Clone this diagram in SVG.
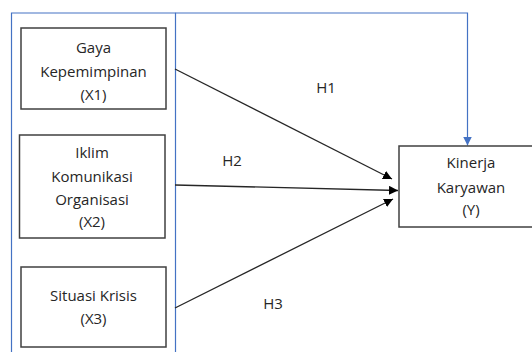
<svg xmlns="http://www.w3.org/2000/svg" width="532" height="352" viewBox="0 0 532 352">
<style>
.box{fill:#fff;stroke:#404040;stroke-width:1.5}
.t{font-family:"Open Sans","Liberation Sans",sans-serif;font-size:15px;fill:#262626;text-anchor:middle}
.lbl{font-family:"Open Sans","Liberation Sans",sans-serif;font-size:15px;fill:#262626;text-anchor:middle}
.blue{fill:none;stroke:#4472C4;stroke-width:1.2}
.arr{fill:none;stroke:#262626;stroke-width:1.3}
</style>
<defs>
<marker id="ah" viewBox="0 0 10 10" refX="10" refY="5" markerWidth="9" markerHeight="9" markerUnits="userSpaceOnUse" orient="auto"><path d="M0,0 L10,5 L0,10 Z" fill="#000"/></marker>
<marker id="ahb" viewBox="0 0 10 10" refX="10" refY="5" markerWidth="9" markerHeight="9" markerUnits="userSpaceOnUse" orient="auto"><path d="M0,0 L10,5 L0,10 Z" fill="#4472C4"/></marker>
</defs>
<rect width="532" height="352" fill="#fff"/>
<g id="connectors">
<path class="blue" d="M11.5,352 V13 H175.5 V352"/>
<path class="blue" d="M175.5,13 H467.5 V145.5" marker-end="url(#ahb)"/>
<line class="arr" x1="175" y1="69" x2="392" y2="179" marker-end="url(#ah)"/>
<line class="arr" x1="175" y1="185" x2="398" y2="190.5" marker-end="url(#ah)"/>
<line class="arr" x1="175" y1="308" x2="393" y2="199" marker-end="url(#ah)"/>
<text class="lbl" x="326" y="93">H1</text>
<text class="lbl" x="232" y="166">H2</text>
<text class="lbl" x="273" y="309">H3</text>
</g>
<g id="x1">
<rect class="box" x="21" y="28" width="145" height="81"/>
<text class="t" x="93.5" y="53">Gaya</text>
<text class="t" x="93.5" y="77">Kepemimpinan</text>
<text class="t" x="93.5" y="100">(X1)</text>
</g>
<g id="x2">
<rect class="box" x="19.5" y="135" width="145.5" height="103"/>
<text class="t" x="92" y="158">Iklim</text>
<text class="t" x="92" y="182">Komunikasi</text>
<text class="t" x="92" y="205">Organisasi</text>
<text class="t" x="92" y="227">(X2)</text>
</g>
<g id="x3">
<rect class="box" x="21" y="267" width="145" height="80"/>
<text class="t" x="93.5" y="301">Situasi Krisis</text>
<text class="t" x="93.5" y="324">(X3)</text>
</g>
<g id="y">
<rect class="box" x="399" y="146" width="140" height="81"/>
<text class="t" x="471" y="168">Kinerja</text>
<text class="t" x="471" y="193">Karyawan</text>
<text class="t" x="471" y="215">(Y)</text>
</g>
</svg>
